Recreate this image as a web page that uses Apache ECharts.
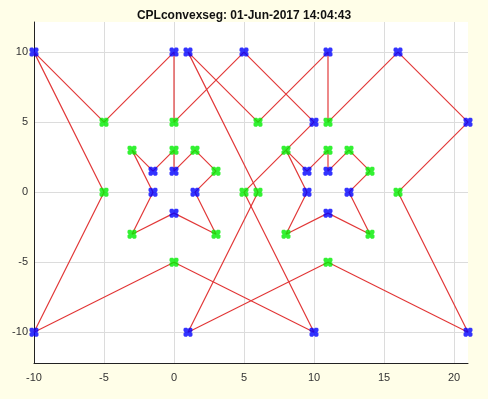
<!DOCTYPE html>
<html>
<head>
<meta charset="utf-8">
<script src="https://cdn.jsdelivr.net/npm/echarts@6/dist/echarts.min.js"></script>
<style>
  html, body { margin: 0; padding: 0; background: #fffee8; }
  #main { width: 488px; height: 399px; }
</style>
</head>
<body>
<div id="main"></div>
<script>
// polygon outlines, in drawing order
var outerA = [[-10,10],[-5,5],[0,10],[0,5],[5,10],[10,5],[8,3],[9.5,1.5],[11,3],[11,1.5],[12.5,3],[14,1.5],
    [12.5,0],[14,-3],[11,-1.5],[8,-3],[9.5,0],[8,3],[5,0],[10,-10],[0,-5],[-10,-10],[-5,0],[-10,10]];
var outerB = [[1,10],[6,5],[11,10],[11,5],[16,10],[21,5],[16,0],[21,-10],[11,-5],[1,-10],[6,0],[1,10]];
var holeLeft = [[-3,3],[-1.5,1.5],[0,3],[0,1.5],[1.5,3],[3,1.5],[1.5,0],[3,-3],[0,-1.5],[-3,-3],[-1.5,0],[-3,3]];

// vertex markers
var bluePts = [[-10,10],[0,10],[1,10],[5,10],[11,10],[16,10],[21,5],[10,5],[-10,-10],[1,-10],[10,-10],[21,-10],
    [-1.5,1.5],[0,1.5],[-1.5,0],[1.5,0],[0,-1.5],[9.5,1.5],[11,1.5],[9.5,0],[12.5,0],[11,-1.5]];
var greenPts = [[-5,5],[0,5],[6,5],[11,5],[-5,0],[5,0],[6,0],[16,0],[0,-5],[11,-5],[-3,3],[0,3],[1.5,3],[3,1.5],
    [-3,-3],[3,-3],[8,3],[11,3],[12.5,3],[14,1.5],[8,-3],[14,-3]];

var xTicks = [-10, -5, 0, 5, 10, 15, 20];
var yTicks = [-10, -5, 0, 5, 10];

// notched square, close to the thick '*' markers
var blob = 'path://M1,0 L3,0 L4,1 L5,0 L7,0 L8,1 L8,3 L7,4 L8,5 L8,7 L7,8 L5,8 L4,7 L3,8 L1,8 L0,7 L0,5 L1,4 L0,3 L0,1 Z';

function lineSeries(pts) {
    return {
        type: 'line',
        data: pts,
        symbol: 'none',
        lineStyle: { color: '#e23a3a', width: 1.2 },
        animation: false,
        z: 2
    };
}
function dotSeries(pts, color) {
    return {
        type: 'scatter',
        data: pts,
        symbol: blob,
        symbolSize: 9,
        itemStyle: { color: color },
        animation: false,
        z: 3
    };
}

var myChart = echarts.init(document.getElementById('main'));
var option = {
    backgroundColor: '#fffee8',
    title: {
        text: 'CPLconvexseg: 01-Jun-2017 14:04:43',
        left: 'center',
        top: 5,
        textStyle: { fontSize: 12, fontWeight: 'bold', color: '#111', fontFamily: 'Liberation Sans' }
    },
    grid: {
        left: 34, right: 20, top: 22, bottom: 36,
        show: true, backgroundColor: '#fff', borderWidth: 0
    },
    xAxis: {
        type: 'value',
        min: -10, max: 21,
        axisLine: { show: true, onZero: false, lineStyle: { color: '#222', width: 1 } },
        axisTick: { show: false, customValues: xTicks },
        axisLabel: { customValues: xTicks, color: '#333', fontSize: 11, fontFamily: 'Liberation Sans', margin: 9 },
        splitLine: { show: true, lineStyle: { color: '#dcdcdc' } }
    },
    yAxis: {
        type: 'value',
        min: -12.2, max: 12.15,
        axisLine: { show: true, onZero: false, lineStyle: { color: '#222', width: 1 } },
        axisTick: { show: false, customValues: yTicks },
        axisLabel: { customValues: yTicks, color: '#333', fontSize: 11, fontFamily: 'Liberation Sans', margin: 6 },
        splitLine: { show: true, lineStyle: { color: '#dcdcdc' } }
    },
    series: [
        lineSeries(outerA),
        lineSeries(outerB),
        lineSeries(holeLeft),
        dotSeries(bluePts, '#0000ff'),
        dotSeries(greenPts, '#00ee00')
    ]
};
myChart.setOption(option);
</script>
</body>
</html>
